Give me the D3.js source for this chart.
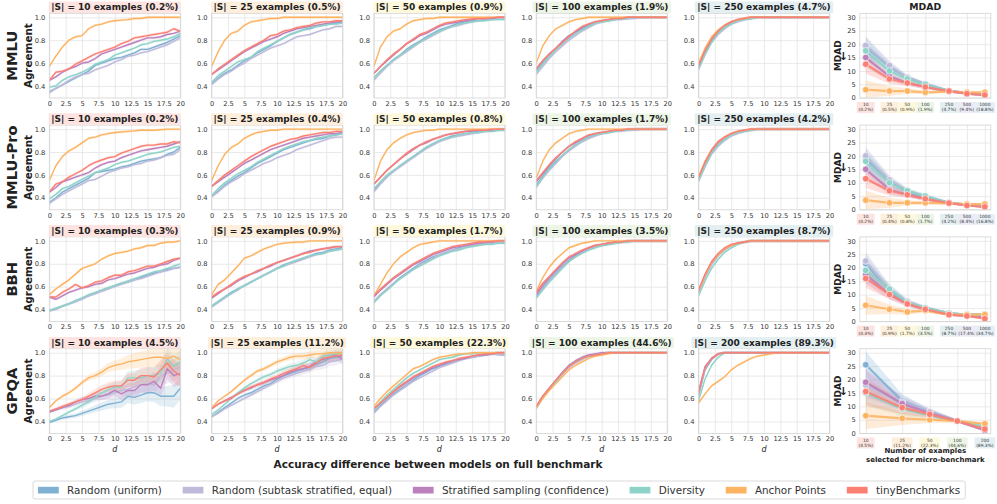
<!DOCTYPE html>
<html><head><meta charset="utf-8">
<script src="https://cdn.jsdelivr.net/npm/d3@7"></script>
<style>body{margin:0;background:#fff} text{font-family:"DejaVu Sans",sans-serif}</style>
</head><body><script>
// ---------------- DATA ----------------
const METHODS = ["Random (uniform)", "Random (subtask stratified, equal)", "Stratified sampling (confidence)", "Diversity", "Anchor Points", "tinyBenchmarks"];
const COLORS = ["#80b1d3", "#bebada", "#bc80bd", "#8dd3c7", "#fdb462", "#fb8072"];
const BENCHMARKS = ["MMLU", "MMLU-Pro", "BBH", "GPQA"];
const D_VALUES = [0,1,2,3,4,5,6,7,8,9,10,11,12,13,14,15,16,17,18,19,20];
const X_TICKS = [0,2.5,5,7.5,10,12.5,15,17.5,20];
const Y_TICKS = [0.4,0.6,0.8,1.0];
const SIZES = [[10,25,50,100,250],[10,25,50,100,250],[10,25,50,100,250],[10,25,50,100,200]];
const PCTS = [["0.2%","0.5%","0.9%","1.9%","4.7%"],["0.2%","0.4%","0.8%","1.7%","4.2%"],["0.3%","0.9%","1.7%","3.5%","8.7%"],["4.5%","11.2%","22.3%","44.6%","89.3%"]];
const MDAD_SIZES = [[10,25,50,100,250,500,1000],[10,25,50,100,250,500,1000],[10,25,50,100,250,500,1000],[10,25,50,100,200]];
const MDAD_PCTS = [["0.2%","0.5%","0.9%","1.9%","4.7%","9.4%","18.8%"],["0.2%","0.4%","0.8%","1.7%","4.2%","8.4%","16.8%"],["0.3%","0.9%","1.7%","3.5%","8.7%","17.4%","34.7%"],["4.5%","11.2%","22.3%","44.6%","89.3%"]];
const MDAD_Y_TICKS = [0,5,10,15,20,25,30];
// order of series in each panel: Random uniform, Random subtask, Stratified, Diversity, Anchor, tiny
const MMLU_10 = [
 [.35,.38,.41,.44,.47,.50,.53,.58,.60,.62,.64,.65,.67,.69,.72,.72,.74,.76,.78,.81,.84],
 [.34,.38,.41,.45,.48,.50,.51,.54,.56,.58,.61,.63,.66,.67,.69,.70,.72,.74,.76,.79,.82],
 [.45,.48,.52,.55,.57,.60,.61,.64,.68,.70,.72,.74,.76,.78,.80,.82,.82,.83,.85,.86,.88],
 [.39,.40,.45,.48,.50,.52,.55,.59,.61,.63,.67,.69,.71,.73,.76,.77,.79,.80,.81,.83,.86],
 [.57,.66,.74,.80,.83,.84,.90,.93,.94,.96,.97,.975,.98,.99,.99,1,1,1,1,1,1],
 [.45,.52,.53,.55,.59,.62,.65,.68,.70,.72,.74,.77,.79,.82,.83,.84,.85,.86,.87,.90,.88]];
const MMLU_25 = [
 [.42,.47,.51,.54,.58,.62,.65,.69,.72,.75,.79,.82,.85,.87,.89,.90,.92,.93,.94,.95,.96],
 [.41,.46,.50,.53,.57,.60,.64,.67,.70,.73,.75,.77,.80,.83,.84,.85,.87,.89,.90,.92,.92],
 [.50,.54,.58,.62,.66,.70,.73,.76,.79,.81,.83,.86,.88,.90,.91,.92,.93,.94,.95,.96,.96],
 [.43,.49,.53,.57,.61,.63,.65,.70,.73,.76,.79,.82,.85,.87,.89,.91,.92,.93,.94,.94,.95],
 [.57,.70,.80,.86,.88,.93,.96,.97,.98,.99,.99,1,1,1,1,1,1,1,1,1,1],
 [.50,.55,.59,.63,.67,.71,.74,.77,.80,.84,.85,.88,.89,.91,.92,.93,.95,.96,.96,.97,.97]];
const MMLU_50 = [
 [.47,.53,.58,.63,.67,.72,.76,.79,.83,.86,.89,.91,.93,.95,.96,.97,.97,.98,.99,.99,.99],
 [.45,.51,.57,.62,.66,.70,.74,.78,.81,.84,.87,.90,.92,.93,.95,.96,.97,.98,.98,.99,.99],
 [.51,.57,.62,.67,.72,.77,.80,.84,.86,.89,.92,.94,.95,.96,.97,.98,.99,.99,.99,1,1],
 [.47,.53,.58,.63,.67,.71,.75,.78,.82,.85,.88,.90,.92,.94,.95,.96,.97,.97,.98,.98,.98],
 [.57,.74,.83,.88,.90,.94,.97,.98,.99,.99,1,1,1,1,1,1,1,1,1,1,1],
 [.51,.57,.63,.68,.72,.77,.81,.85,.87,.90,.93,.95,.96,.97,.98,.985,.99,.99,.995,1,1]];
const MMLU_100 = [
 [.53,.60,.66,.72,.77,.82,.86,.90,.93,.95,.96,.97,.98,.99,.99,1,1,1,1,1,1],
 [.50,.57,.64,.70,.75,.80,.84,.88,.91,.94,.96,.97,.98,.98,.99,.99,1,1,1,1,1],
 [.55,.62,.68,.73,.79,.84,.87,.91,.94,.96,.97,.98,.99,.99,1,1,1,1,1,1,1],
 [.52,.59,.66,.72,.77,.82,.86,.89,.92,.95,.96,.97,.98,.99,.99,1,1,1,1,1,1],
 [.60,.75,.84,.90,.93,.96,.98,.99,1,1,1,1,1,1,1,1,1,1,1,1,1],
 [.55,.62,.68,.73,.78,.83,.88,.92,.94,.96,.97,.98,.99,.99,1,1,1,1,1,1,1]];
const MMLU_250 = [
 [.56,.69,.79,.86,.91,.95,.97,.98,.99,1,1,1,1,1,1,1,1,1,1,1,1],
 [.54,.67,.78,.85,.90,.94,.96,.98,.99,1,1,1,1,1,1,1,1,1,1,1,1],
 [.58,.71,.81,.88,.93,.96,.98,.99,1,1,1,1,1,1,1,1,1,1,1,1,1],
 [.55,.68,.78,.86,.91,.94,.97,.98,.99,1,1,1,1,1,1,1,1,1,1,1,1],
 [.60,.73,.83,.89,.93,.96,.98,.99,1,1,1,1,1,1,1,1,1,1,1,1,1],
 [.58,.71,.81,.88,.93,.96,.98,.99,1,1,1,1,1,1,1,1,1,1,1,1,1]];
const PRO_10 = [
 [.36,.40,.45,.48,.51,.54,.57,.62,.63,.64,.65,.67,.68,.70,.72,.73,.74,.75,.78,.80,.84],
 [.35,.39,.43,.46,.49,.52,.55,.56,.59,.62,.64,.66,.67,.69,.70,.72,.73,.75,.77,.78,.82],
 [.45,.49,.54,.56,.58,.60,.62,.66,.69,.71,.72,.75,.77,.79,.81,.82,.83,.84,.85,.87,.89],
 [.39,.43,.48,.50,.53,.56,.59,.62,.64,.66,.69,.71,.72,.74,.76,.78,.79,.80,.82,.84,.85],
 [.55,.68,.76,.81,.84,.88,.92,.93,.95,.96,.97,.975,.98,.985,.99,.99,.99,.995,1,1,1],
 [.45,.52,.54,.58,.61,.64,.68,.71,.73,.75,.76,.79,.81,.83,.85,.86,.86,.87,.87,.89,.88]];
const PRO_25 = [
 [.41,.46,.51,.55,.59,.62,.66,.70,.73,.76,.79,.82,.84,.86,.88,.90,.91,.92,.94,.95,.96],
 [.41,.45,.50,.54,.57,.61,.64,.67,.70,.72,.75,.77,.79,.82,.84,.86,.88,.90,.92,.93,.93],
 [.50,.54,.58,.62,.66,.70,.73,.76,.79,.82,.84,.86,.88,.90,.92,.93,.94,.95,.96,.96,.97],
 [.42,.48,.53,.57,.61,.64,.67,.71,.74,.77,.80,.83,.85,.87,.89,.90,.92,.93,.94,.95,.96],
 [.55,.68,.78,.84,.87,.92,.95,.97,.98,.99,.99,1,1,1,1,1,1,1,1,1,1],
 [.50,.55,.60,.64,.68,.72,.76,.79,.82,.85,.87,.89,.91,.92,.94,.95,.96,.97,.97,.98,.98]];
const PRO_50 = [
 [.47,.53,.59,.63,.68,.72,.76,.80,.84,.87,.90,.92,.94,.95,.96,.97,.98,.98,.99,.99,.99],
 [.45,.52,.58,.63,.67,.71,.75,.79,.83,.86,.89,.91,.93,.94,.95,.96,.97,.98,.98,.99,.99],
 [.52,.58,.64,.69,.74,.78,.82,.86,.88,.91,.93,.95,.96,.97,.98,.98,.99,.99,.99,1,1],
 [.48,.54,.60,.64,.68,.72,.76,.80,.84,.87,.90,.92,.93,.95,.96,.97,.97,.98,.98,.99,.99],
 [.55,.72,.82,.88,.92,.95,.97,.98,.99,.99,1,1,1,1,1,1,1,1,1,1,1],
 [.52,.58,.64,.69,.74,.79,.83,.86,.89,.91,.93,.95,.96,.97,.98,.99,.99,.99,1,1,1]];
const PRO_100 = [
 [.51,.59,.66,.72,.77,.82,.86,.89,.92,.95,.96,.97,.98,.99,.99,1,1,1,1,1,1],
 [.49,.57,.64,.70,.76,.81,.85,.89,.92,.94,.96,.97,.98,.98,.99,.99,1,1,1,1,1],
 [.54,.61,.68,.74,.80,.85,.88,.91,.94,.96,.97,.98,.99,.99,1,1,1,1,1,1,1],
 [.50,.58,.65,.71,.77,.82,.86,.90,.93,.95,.96,.97,.98,.99,.99,1,1,1,1,1,1],
 [.57,.72,.82,.88,.92,.96,.98,.99,1,1,1,1,1,1,1,1,1,1,1,1,1],
 [.55,.62,.69,.75,.80,.85,.89,.92,.95,.96,.97,.98,.99,.99,1,1,1,1,1,1,1]];
const PRO_250 = [
 [.55,.68,.79,.86,.91,.95,.97,.98,.99,1,1,1,1,1,1,1,1,1,1,1,1],
 [.54,.67,.78,.85,.90,.94,.96,.98,.99,1,1,1,1,1,1,1,1,1,1,1,1],
 [.57,.71,.81,.88,.93,.96,.98,.99,1,1,1,1,1,1,1,1,1,1,1,1,1],
 [.55,.68,.79,.86,.91,.95,.97,.98,.99,1,1,1,1,1,1,1,1,1,1,1,1],
 [.58,.72,.82,.89,.93,.96,.98,.99,1,1,1,1,1,1,1,1,1,1,1,1,1],
 [.58,.71,.82,.89,.93,.96,.98,.99,1,1,1,1,1,1,1,1,1,1,1,1,1]];
const BBH_10 = [
 [.39,.41,.43,.45,.47,.50,.52,.54,.57,.59,.61,.63,.64,.66,.68,.70,.72,.73,.75,.76,.77],
 [.39,.40,.43,.45,.47,.49,.52,.54,.56,.58,.60,.62,.64,.66,.67,.69,.71,.73,.74,.76,.77],
 [.51,.49,.52,.55,.57,.59,.60,.62,.63,.66,.67,.69,.71,.72,.74,.76,.77,.79,.80,.83,.85],
 [.39,.41,.43,.45,.48,.50,.53,.55,.57,.59,.61,.63,.65,.67,.69,.71,.73,.74,.76,.78,.80],
 [.53,.58,.62,.66,.71,.76,.78,.80,.84,.87,.89,.90,.91,.93,.94,.96,.96,.98,.99,.99,1],
 [.51,.51,.55,.58,.62,.59,.61,.64,.65,.68,.70,.70,.73,.74,.76,.78,.78,.80,.82,.84,.85]];
const BBH_25 = [
 [.43,.47,.51,.55,.58,.61,.64,.67,.70,.73,.76,.79,.81,.83,.85,.87,.89,.90,.92,.93,.94],
 [.42,.46,.50,.54,.57,.61,.64,.67,.70,.73,.76,.78,.80,.82,.84,.86,.88,.89,.91,.92,.93],
 [.50,.54,.58,.61,.65,.68,.71,.73,.76,.78,.81,.83,.85,.87,.89,.91,.92,.93,.94,.95,.95],
 [.43,.47,.51,.54,.58,.61,.64,.67,.70,.73,.76,.78,.81,.83,.85,.87,.88,.89,.91,.92,.93],
 [.53,.62,.66,.72,.78,.85,.87,.90,.93,.95,.97,.98,.985,.99,.99,1,1,1,1,1,1],
 [.51,.55,.58,.62,.66,.69,.71,.74,.76,.79,.81,.83,.85,.87,.89,.90,.92,.93,.94,.95,.95]];
const BBH_50 = [
 [.47,.53,.58,.63,.68,.72,.76,.80,.83,.86,.88,.90,.92,.94,.95,.96,.97,.98,.98,.99,.99],
 [.47,.53,.58,.63,.67,.71,.75,.79,.82,.85,.88,.90,.92,.93,.95,.96,.97,.97,.98,.99,.99],
 [.51,.57,.62,.67,.71,.75,.79,.82,.85,.88,.90,.92,.94,.95,.96,.97,.98,.99,.99,1,1],
 [.46,.52,.57,.62,.67,.71,.75,.78,.81,.84,.87,.89,.91,.92,.94,.95,.96,.97,.97,.98,.98],
 [.52,.62,.72,.80,.86,.90,.94,.97,.98,.99,1,1,1,1,1,1,1,1,1,1,1],
 [.52,.58,.63,.68,.72,.76,.80,.83,.86,.89,.91,.93,.95,.96,.97,.98,.99,.99,.995,1,1]];
const BBH_100 = [
 [.51,.59,.66,.72,.78,.83,.87,.90,.93,.95,.96,.97,.98,.99,1,1,1,1,1,1,1],
 [.50,.58,.65,.71,.77,.82,.86,.90,.93,.95,.96,.97,.98,.99,.99,1,1,1,1,1,1],
 [.53,.61,.68,.74,.80,.85,.88,.91,.94,.96,.97,.98,.99,.99,1,1,1,1,1,1,1],
 [.50,.57,.64,.70,.76,.82,.86,.89,.92,.94,.96,.97,.98,.99,.99,1,1,1,1,1,1],
 [.56,.68,.77,.84,.89,.94,.96,.98,.99,1,1,1,1,1,1,1,1,1,1,1,1],
 [.55,.63,.69,.75,.81,.86,.89,.92,.94,.96,.97,.98,.99,.99,1,1,1,1,1,1,1]];
const BBH_250 = [
 [.55,.69,.80,.88,.93,.96,.98,.99,1,1,1,1,1,1,1,1,1,1,1,1,1],
 [.55,.68,.79,.87,.92,.96,.98,.99,1,1,1,1,1,1,1,1,1,1,1,1,1],
 [.56,.70,.81,.88,.93,.96,.98,.99,1,1,1,1,1,1,1,1,1,1,1,1,1],
 [.52,.65,.76,.84,.90,.94,.97,.99,1,1,1,1,1,1,1,1,1,1,1,1,1],
 [.56,.70,.81,.88,.93,.96,.98,.99,1,1,1,1,1,1,1,1,1,1,1,1,1],
 [.57,.71,.82,.89,.94,.97,.98,.99,1,1,1,1,1,1,1,1,1,1,1,1,1]];
const GPQA_10 = [
 [.39,.41,.43,.44,.45,.47,.49,.51,.53,.55,.56,.57,.62,.61,.63,.65,.65,.62,.62,.62,.69],
 [.49,.50,.52,.53,.55,.57,.58,.60,.62,.63,.65,.67,.68,.70,.72,.73,.72,.80,.82,.85,.88],
 [.48,.50,.52,.54,.57,.59,.60,.62,.62,.64,.67,.64,.67,.67,.72,.72,.75,.69,.86,.80,.82],
 [.40,.42,.45,.48,.51,.54,.57,.61,.65,.68,.70,.70,.78,.78,.78,.80,.80,.82,.95,.88,.92],
 [.52,.58,.62,.65,.69,.74,.78,.80,.83,.87,.89,.90,.92,.93,.94,.95,.96,.96,.95,.97,.94],
 [.49,.51,.53,.55,.57,.59,.62,.65,.68,.70,.71,.71,.76,.76,.80,.80,.79,.85,.91,.84,.80]];
const GPQA_25 = [
 [.44,.48,.52,.56,.60,.63,.65,.68,.71,.73,.77,.80,.82,.84,.86,.87,.90,.92,.95,.96,.97],
 [.44,.47,.51,.54,.57,.60,.63,.66,.69,.72,.75,.78,.80,.82,.84,.86,.88,.89,.92,.93,.95],
 [.51,.55,.58,.61,.64,.67,.69,.72,.74,.76,.78,.80,.83,.85,.86,.88,.92,.94,.96,.98,.94],
 [.46,.50,.55,.60,.65,.69,.73,.76,.79,.81,.84,.86,.88,.89,.91,.94,.92,.97,.98,.99,1],
 [.52,.58,.62,.66,.71,.76,.80,.84,.86,.89,.92,.94,.96,.97,.97,.98,.99,.99,1,1,1],
 [.51,.55,.58,.60,.64,.67,.70,.72,.74,.77,.79,.82,.84,.86,.89,.87,.91,.95,.96,.97,.98]];
const GPQA_50 = [
 [.48,.54,.59,.64,.68,.72,.76,.80,.83,.86,.88,.90,.92,.94,.95,.96,.97,.98,.99,.99,.98],
 [.47,.53,.58,.63,.67,.71,.75,.78,.81,.84,.87,.89,.91,.93,.95,.96,.97,.98,.99,.98,.98],
 [.51,.56,.61,.66,.70,.74,.78,.81,.84,.87,.89,.91,.93,.94,.95,.97,.98,.98,.99,1,1],
 [.50,.57,.63,.68,.73,.78,.82,.85,.88,.91,.94,.95,.96,.98,.99,.99,1,1,1,1,1],
 [.53,.60,.66,.71,.76,.81,.86,.88,.91,.94,.96,.97,.98,.99,.99,1,1,1,1,1,1],
 [.51,.56,.61,.66,.71,.75,.79,.82,.85,.88,.90,.92,.93,.95,.96,.97,.98,.99,.99,1,1]];
const GPQA_100 = [
 [.52,.61,.68,.75,.82,.88,.92,.95,.97,.98,.99,1,1,1,1,1,1,1,1,1,1],
 [.51,.60,.68,.75,.81,.87,.91,.94,.97,.98,.99,1,1,1,1,1,1,1,1,1,1],
 [.53,.62,.69,.76,.83,.89,.93,.96,.98,.99,1,1,1,1,1,1,1,1,1,1,1],
 [.52,.61,.68,.75,.82,.88,.92,.95,.97,.98,.99,1,1,1,1,1,1,1,1,1,1],
 [.52,.60,.67,.73,.79,.85,.89,.92,.95,.97,.98,.99,1,1,1,1,1,1,1,1,1],
 [.53,.62,.69,.76,.82,.88,.92,.95,.97,.98,.99,1,1,1,1,1,1,1,1,1,1]];
const GPQA_200 = [
 [.62,.85,.94,.99,1,1,1,1,1,1,1,1,1,1,1,1,1,1,1,1,1],
 [.63,.86,.95,.99,1,1,1,1,1,1,1,1,1,1,1,1,1,1,1,1,1],
 [.66,.88,.95,.99,1,1,1,1,1,1,1,1,1,1,1,1,1,1,1,1,1],
 [.58,.77,.89,.96,1,1,1,1,1,1,1,1,1,1,1,1,1,1,1,1,1],
 [.56,.64,.71,.75,.79,.85,.89,.92,.95,.97,.98,.99,1,1,1,1,1,1,1,1,1],
 [.65,.87,.95,.99,1,1,1,1,1,1,1,1,1,1,1,1,1,1,1,1,1]];
// half-width of confidence bands
const BAND_DEFAULT = 0.012;
const GPQA_10_BAND = [.01,.012,.015,.018,.02,.022,.025,.03,.035,.04,.045,.05,.06,.065,.07,.075,.08,.085,.09,.1,.1];
const GPQA_25_BAND = [.01,.01,.012,.012,.014,.015,.016,.018,.02,.02,.022,.024,.026,.028,.03,.032,.034,.036,.038,.04,.04];
const MDAD_MMLU = [[19.0,11.5,7.5,5.0,2.6,1.7,1.2],[19.5,12.0,7.5,5.2,2.6,1.8,1.3],[15.0,8.0,5.5,4.0,2.4,1.5,1.0],[17.5,10.0,7.0,5.0,2.5,1.6,1.1],[3.0,2.5,2.5,2.0,2.3,2.0,2.0],[12.5,7.0,5.5,4.0,2.5,1.5,1.0]];
const MDAD_PRO = [[19.0,10.5,6.5,4.5,2.5,1.8,1.2],[20.0,11.0,7.0,5.0,2.6,1.8,1.3],[15.0,7.5,5.5,4.0,2.4,1.6,1.0],[18.0,10.0,7.0,5.0,2.5,1.7,1.2],[3.5,2.5,2.5,2.5,2.3,2.0,2.0],[11.5,7.0,5.5,4.0,2.4,1.5,1.0]];
const MDAD_BBH = [[21.5,11.5,7.0,5.0,3.0,2.5,2.5],[22.5,12.0,7.5,5.0,3.0,2.5,2.5],[17.5,10.0,6.5,4.5,2.5,2.0,1.5],[19.0,12.0,7.0,5.0,3.0,2.5,2.5],[6.0,4.5,3.5,4.0,2.5,2.5,2.5],[16.0,10.0,6.5,4.5,2.5,2.0,1.0]];
const MDAD_GPQA = [[25.5,12.0,8.0,4.5,1.5],[18.0,11.5,8.0,4.5,1.5],[19.0,11.0,7.5,4.5,1.0],[15.0,9.0,6.5,4.5,2.5],[6.5,5.5,5.0,4.5,3.5],[15.5,9.5,7.0,4.5,1.5]];
const MDAD_BAND = [[3.5,1.8,1.0,0.7,0.5,0.4,0.3],[3.5,1.8,1.0,0.7,0.5,0.4,0.3],[3.5,1.8,1.0,0.7,0.5,0.4,0.3],[5.0,2.5,1.2,0.6,0.5]];
const SIZE_COLORS = {10:"#fde4e1",25:"#feefdd",50:"#fef9dc",100:"#edf6e6",200:"#e4eff2",250:"#e4eff2",500:"#ebeaf5",1000:"#e6eef6"};

const PANELS = [[MMLU_10,MMLU_25,MMLU_50,MMLU_100,MMLU_250],[PRO_10,PRO_25,PRO_50,PRO_100,PRO_250],[BBH_10,BBH_25,BBH_50,BBH_100,BBH_250],[GPQA_10,GPQA_25,GPQA_50,GPQA_100,GPQA_200]];
const MDAD = [MDAD_MMLU, MDAD_PRO, MDAD_BBH, MDAD_GPQA];
const TITLE_BG = ["#fde4e1","#feefdd","#fef9dc","#edf6e6","#e4eff2"];

// ---------------- LAYOUT ----------------
const W = 997, H = 504;
const ROW_Y0 = 13.3, ROW_STEP = 111.8, PH = 84.7;
const COL_X0 = 49.3, COL_STEP = 162.3, PW = 131;
const GRID = "#e4e4e4", FRAME = "#d2d2d2", TICKC = "#333";
const FONT = '"DejaVu Sans", sans-serif';

const svg = d3.select("body").append("svg").attr("width", W).attr("height", H);
let clipId = 0;

function styleAxis(sel) {
  sel.select(".domain").remove();
  sel.selectAll(".tick line").attr("stroke", GRID).attr("stroke-width", 0.8);
  sel.selectAll(".tick text").attr("fill", TICKC).attr("font-size", 6.7).attr("font-family", FONT);
}

function titleBox(g, cx, y, text, bg, size) {
  const tg = g.append("g");
  const rect = tg.append("rect").attr("fill", bg).attr("rx", 1);
  const t = tg.append("text").attr("x", cx).attr("y", y).attr("text-anchor", "middle")
    .attr("font-size", size).attr("font-weight", "bold").attr("fill", "#222").text(text);
  const bb = t.node().getBBox();
  rect.attr("x", bb.x - 2.5).attr("y", bb.y - 0.8).attr("width", bb.width + 5).attr("height", bb.height + 1.6);
}

for (let r = 0; r < 4; r++) {
  const y0 = ROW_Y0 + r * ROW_STEP;
  for (let c = 0; c < 5; c++) {
    const x0 = COL_X0 + c * COL_STEP;
    const g = svg.append("g").attr("transform", `translate(${x0},${y0})`);
    const x = d3.scaleLinear().domain([0, 20]).range([0, PW]);
    const y = d3.scaleLinear().domain([0.295, 1.035]).range([PH, 0]);
    g.append("rect").attr("width", PW).attr("height", PH).attr("fill", "#fff");
    g.append("g").attr("transform", `translate(0,${PH})`)
      .call(d3.axisBottom(x).tickValues(X_TICKS).tickSize(-PH).tickPadding(3).tickFormat(d3.format("~g")))
      .call(styleAxis);
    g.append("g").call(d3.axisLeft(y).tickValues(Y_TICKS).tickSize(-PW).tickPadding(4).tickFormat(d3.format(".1f")))
      .call(styleAxis);
    const id = "clip" + (clipId++);
    g.append("clipPath").attr("id", id).append("rect").attr("width", PW).attr("height", PH);
    const plot = g.append("g").attr("clip-path", `url(#${id})`);
    const series = PANELS[r][c];
    const band = (r === 3 && c === 0) ? GPQA_10_BAND : (r === 3 && c === 1) ? GPQA_25_BAND : null;
    series.forEach((vals, s) => {
      const area = d3.area().x((v, i) => x(D_VALUES[i]))
        .y0((v, i) => y(v - (band ? band[i] : BAND_DEFAULT)))
        .y1((v, i) => y(v + (band ? band[i] : BAND_DEFAULT)));
      plot.append("path").attr("d", area(vals)).attr("fill", COLORS[s]).attr("opacity", 0.22);
    });
    series.forEach((vals, s) => {
      const line = d3.line().x((v, i) => x(D_VALUES[i])).y(v => y(v));
      plot.append("path").attr("d", line(vals)).attr("fill", "none").attr("stroke", COLORS[s])
        .attr("stroke-width", 1.4).attr("stroke-linejoin", "round");
    });
    g.append("rect").attr("width", PW).attr("height", PH).attr("fill", "none").attr("stroke", FRAME).attr("stroke-width", 0.8);
    titleBox(g, PW / 2, -3, `|S| = ${SIZES[r][c]} examples (${PCTS[r][c]})`, TITLE_BG[c], 9);
    if (r === 3) {
      g.append("text").attr("x", PW / 2).attr("y", PH + 18.5).attr("text-anchor", "middle")
        .attr("font-size", 8).attr("font-style", "italic").attr("fill", "#222").text("d");
    }
    if (c === 0) {
      g.append("text").attr("transform", `translate(-17.5,${PH / 2}) rotate(-90)`).attr("text-anchor", "middle")
        .attr("font-size", 10.4).attr("font-weight", "bold").attr("fill", "#222").text("Agreement");
      g.append("text").attr("transform", `translate(-32,${PH / 2}) rotate(-90)`).attr("text-anchor", "middle")
        .attr("font-size", 14.7).attr("font-weight", "bold").attr("fill", "#222").text(BENCHMARKS[r]);
    }
  }
  // MDAD panel
  const x0 = COL_X0 + 5 * COL_STEP - 1;
  const g = svg.append("g").attr("transform", `translate(${x0},${y0})`);
  const sizes = MDAD_SIZES[r];
  const lo = Math.log10(sizes[0]), hi = Math.log10(sizes[sizes.length - 1]), m = (hi - lo) * 0.05;
  const x = d3.scaleLog().domain([Math.pow(10, lo - m), Math.pow(10, hi + m)]).range([0, PW]);
  const y = d3.scaleLinear().domain([-0.1, 31.5]).range([PH, 0]);
  g.append("g").attr("transform", `translate(0,${PH})`)
    .call(d3.axisBottom(x).tickValues(sizes).tickSize(-PH).tickFormat(""))
    .call(styleAxis);
  g.append("g").call(d3.axisLeft(y).tickValues(MDAD_Y_TICKS).tickSize(-PW).tickPadding(4).tickFormat(d3.format("d")))
    .call(styleAxis);
  const id = "clip" + (clipId++);
  g.append("clipPath").attr("id", id).append("rect").attr("width", PW).attr("height", PH);
  const plot = g.append("g").attr("clip-path", `url(#${id})`);
  const data = MDAD[r], bw = MDAD_BAND[r];
  data.forEach((vals, s) => {
    const area = d3.area().x((v, i) => x(sizes[i])).y0((v, i) => y(Math.max(0, v - bw[i]))).y1((v, i) => y(v + bw[i]));
    plot.append("path").attr("d", area(vals)).attr("fill", COLORS[s]).attr("opacity", 0.25);
  });
  data.forEach((vals, s) => {
    const line = d3.line().x((v, i) => x(sizes[i])).y(v => y(v));
    plot.append("path").attr("d", line(vals)).attr("fill", "none").attr("stroke", COLORS[s])
      .attr("stroke-width", 2.2).attr("opacity", 0.9);
    plot.selectAll(null).data(vals).enter().append("circle")
      .attr("cx", (v, i) => x(sizes[i])).attr("cy", v => y(v)).attr("r", 3.3)
      .attr("fill", COLORS[s]).attr("stroke", "#fff").attr("stroke-width", 0.6);
  });
  g.append("rect").attr("width", PW).attr("height", PH).attr("fill", "none").attr("stroke", FRAME).attr("stroke-width", 0.8);
  // tick labels with coloured boxes
  sizes.forEach((sz, i) => {
    const lg = g.append("g").attr("transform", `translate(${x(sz)},${PH + 4})`);
    const rect = lg.append("rect").attr("fill", SIZE_COLORS[sz]);
    const t1 = lg.append("text").attr("y", 4.3).attr("text-anchor", "middle").attr("font-size", 4.4).attr("fill", "#333").text(sz);
    const t2 = lg.append("text").attr("y", 9.3).attr("text-anchor", "middle").attr("font-size", 4.4).attr("fill", "#333").text(`(${MDAD_PCTS[r][i]})`);
    const w = Math.max(t1.node().getBBox().width, t2.node().getBBox().width) + 3;
    rect.attr("x", -w / 2).attr("y", 0).attr("width", w).attr("height", 11);
  });
  g.append("text").attr("transform", `translate(-22,${PH / 2}) rotate(-90)`).attr("text-anchor", "middle")
    .attr("dy", "0.35em").attr("font-size", 9).attr("font-weight", "bold").attr("fill", "#222").text("MDAD");
  g.append("text").attr("x", -16.5).attr("y", PH / 2 + 4).attr("text-anchor", "middle")
    .attr("font-size", 11).attr("font-weight", "bold").attr("fill", "#222").text("↓");
  if (r === 0) {
    g.append("text").attr("x", PW / 2).attr("y", -3).attr("text-anchor", "middle")
      .attr("font-size", 9.3).attr("font-weight", "bold").attr("fill", "#222").text("MDAD");
  }
  if (r === 3) {
    g.append("text").attr("x", PW / 2).attr("y", PH + 20).attr("text-anchor", "middle")
      .attr("font-size", 7).attr("font-weight", "bold").attr("fill", "#222").text("Number of examples");
    g.append("text").attr("x", PW / 2).attr("y", PH + 28.3).attr("text-anchor", "middle")
      .attr("font-size", 7).attr("font-weight", "bold").attr("fill", "#222").text("selected for micro-benchmark");
  }
}

// Overall x label
svg.append("text").attr("x", 438).attr("y", 468).attr("text-anchor", "middle")
  .attr("font-size", 10.5).attr("font-weight", "bold").attr("fill", "#222").text("Accuracy difference between models on full benchmark");

// Legend (matplotlib-like layout: handle 2em, pad 0.8em, column spacing 2em)
const LEG_FS = 10.4;
const leg = svg.append("g");
const legBox = leg.append("rect").attr("y", 481).attr("height", 18).attr("rx", 2)
  .attr("fill", "#fff").attr("stroke", "#d0d0d0").attr("stroke-width", 0.8);
let lx = 38;
METHODS.forEach((mth, i) => {
  leg.append("rect").attr("x", lx).attr("y", 486.8).attr("width", 2 * LEG_FS).attr("height", 6.7).attr("fill", COLORS[i]);
  const t = leg.append("text").attr("x", lx + 2.8 * LEG_FS).attr("y", 490).attr("dy", "0.35em").attr("font-size", LEG_FS)
    .attr("fill", "#333").text(mth);
  lx = lx + 2.8 * LEG_FS + t.node().getComputedTextLength() + 2 * LEG_FS;
});
legBox.attr("x", 33).attr("width", lx - 2 * LEG_FS + 5 - 33);
</script></body></html>
